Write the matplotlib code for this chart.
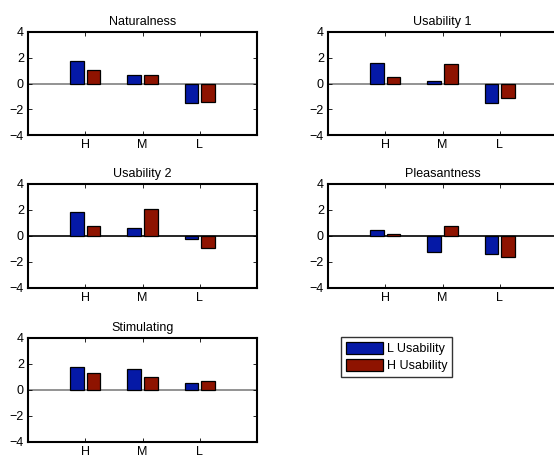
import matplotlib
matplotlib.use("Agg")
import matplotlib.pyplot as plt
import numpy as np

plt.rcParams['font.family'] = ['Liberation Sans', 'DejaVu Sans']

categories = ['H', 'M', 'L']
titles = ['Naturalness', 'Usability 1', 'Usability 2', 'Pleasantness', 'Stimulating']
l_usability = [
    [1.75, 0.67, -1.52],
    [1.63, 0.20, -1.52],
    [1.83, 0.58, -0.20],
    [0.49, -1.26, -1.41],
    [1.75, 1.60, 0.52],
]
h_usability = [
    [1.06, 0.67, -1.47],
    [0.49, 1.55, -1.16],
    [0.74, 2.06, -0.94],
    [0.15, 0.80, -1.62],
    [1.29, 0.98, 0.67],
]
series_names = ['L Usability', 'H Usability']
zero_colors = ['#808080', '#808080', 'black', 'black', '#808080']

W, H = 554, 459
fig = plt.figure(figsize=(W / 100, H / 100), dpi=100)

# axes boxes in pixels: (left, top, width, height)
boxes = [
    (28, 32, 229, 103),
    (328, 32, 229, 103),
    (28, 184, 229, 104),
    (328, 184, 229, 104),
    (28, 338, 229, 104),
]

blue = '#0519A6'
red = '#8E1300'
bw = 0.24
off = 0.145
x = np.arange(1, len(categories) + 1)

bars = None
for i, (l, t, w, h) in enumerate(boxes):
    ax = fig.add_axes([l / W, 1 - (t + h) / H, w / W, h / H])
    ax.axhline(0, color=zero_colors[i], lw=1.2, zorder=1)
    b1 = ax.bar(x - off, l_usability[i], bw, color=blue, edgecolor='black', lw=0.9, zorder=2)
    b2 = ax.bar(x + off, h_usability[i], bw, color=red, edgecolor='black', lw=0.9, zorder=2)
    bars = (b1, b2)
    ax.set_xlim(0, 4)
    ax.set_ylim(-4, 4)
    ax.set_xticks(x)
    ax.set_xticklabels(categories)
    ax.set_yticks([-4, -2, 0, 2, 4])
    ax.set_yticklabels(['\u22124', '\u22122', '0', '2', '4'])
    ax.tick_params(direction='in', top=True, right=(l + w < W), length=3, width=0.6,
                   labelsize=9, pad=3, colors='black')
    for s in ax.spines.values():
        s.set_linewidth(1.5)
    ax.set_title(titles[i], fontsize=9, pad=5)

leg_ax = fig.add_axes([338 / W, 1 - 377 / H, 117 / W, 40 / H])
leg_ax.axis('off')
leg = leg_ax.legend(bars, series_names, loc='center', fontsize=9, frameon=True,
                    fancybox=False, edgecolor='black', handlelength=3.0, handleheight=1.15,
                    borderpad=0.4, labelspacing=0.3, handletextpad=0.3, borderaxespad=0)
leg.get_frame().set_linewidth(1.0)

fig.savefig('out.png', dpi=100)
